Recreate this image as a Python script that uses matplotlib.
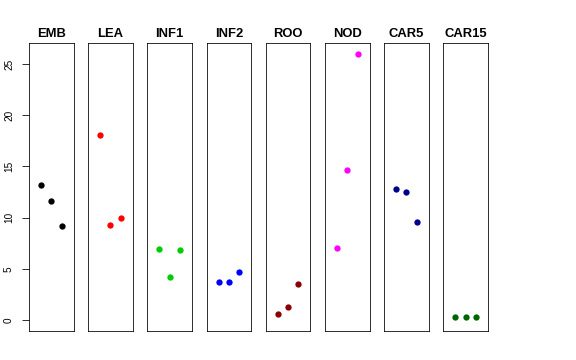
"""
Strip panels: three replicate values per tissue, shared y scale.
"""

import matplotlib.pyplot as plt

groups = ["EMB", "LEA", "INF1", "INF2", "ROO", "NOD", "CAR5", "CAR15"]
colors = ["#000000", "#FF0000", "#00CD00", "#0000FF", "#8B0000", "#FF00FF", "#00008B", "#006400"]

emb = [13.2, 11.6, 9.2]
lea = [18.1, 9.3, 10.0]
inf1 = [6.95, 4.25, 6.9]
inf2 = [3.7, 3.7, 4.7]
roo = [0.6, 1.3, 3.5]
nod = [7.1, 14.65, 26.0]
car5 = [12.85, 12.5, 9.55]
car15 = [0.3, 0.28, 0.3]

values = [emb, lea, inf1, inf2, roo, nod, car5, car15]

plt.rcParams["font.family"] = ["Liberation Sans", "DejaVu Sans"]

W, H = 576, 360
fig = plt.figure(figsize=(W / 72, H / 72), dpi=72)

top, bottom = 43, 331
left0, step, width = 29, 59.2, 44.5

for i, (name, vals, col) in enumerate(zip(groups, values, colors)):
    left = left0 + i * step
    ax = fig.add_axes([left / W, (H - bottom) / H, width / W, (bottom - top) / H])
    xs = list(range(1, len(vals) + 1))
    ax.plot(xs, vals, "o", color=col, markersize=6.3, markeredgewidth=0)
    ax.set_xlim(-0.16, 4.16)
    ax.set_ylim(-1.04, 27.04)
    ax.set_xticks([])
    ax.set_title(name, fontsize=13, fontweight="bold", pad=6)
    for sp in ax.spines.values():
        sp.set_linewidth(0.8)
    if i == 0:
        ax.set_yticks([0, 5, 10, 15, 20, 25])
        ax.tick_params(axis="y", length=7, width=0.8, labelsize=10, pad=8)
        for lab in ax.get_yticklabels():
            lab.set_rotation(90)
            lab.set_va("center")
    else:
        ax.set_yticks([])

fig.savefig("out.png", dpi=72)
plt.close(fig)
